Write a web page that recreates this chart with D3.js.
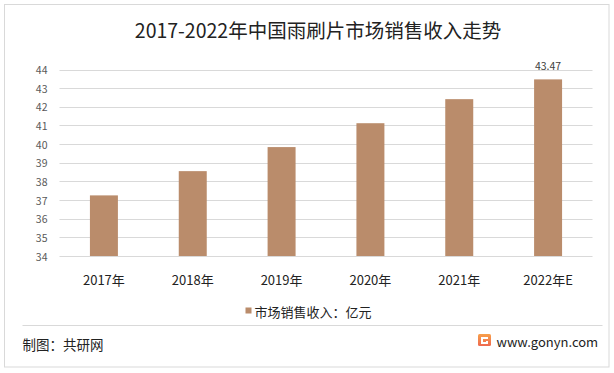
<!DOCTYPE html>
<html>
<head>
<meta charset="utf-8">
<script src="https://cdn.jsdelivr.net/npm/d3@7"></script>
<style>
    body { margin: 0; background: #fff; }
    text { font-family: "Noto Sans CJK SC", "Noto Sans", sans-serif; }
</style>
</head>
<body>
<div id="chart"></div>
<script>
// chart data
var years = ["2017年", "2018年", "2019年", "2020年", "2021年", "2022年E"];
var revenue = [37.25, 38.55, 39.84, 41.12, 42.41, 43.47];
var yTicks = [34, 35, 36, 37, 38, 39, 40, 41, 42, 43, 44];
var shownLabels = ["2022年E"];   // only last bar carries a value label

var title = "2017-2022年中国雨刷片市场销售收入走势";
var legendText = "市场销售收入：亿元";
var source = "制图：共研网";
var site = "www.gonyn.com";

var width = 614, height = 373;
var barColor = "#BA8C6B";
var gridColor = "#d9d9d9";

var svg = d3.select("#chart")
    .append("svg")
    .attr("width", width)
    .attr("height", height);

svg.append("rect")
    .attr("x", 4.5).attr("y", 4.5)
    .attr("width", 604.5).attr("height", 362.5)
    .attr("fill", "#fff")
    .attr("stroke", gridColor);

svg.append("text")
    .attr("x", 318).attr("y", 29)
    .attr("text-anchor", "middle")
    .attr("dominant-baseline", "central")
    .attr("font-size", "19.5px")
    .attr("fill", "#222")
    .text(title);

var x = d3.scaleBand()
    .domain(years)
    .range([59.5, 592.5])
    .paddingInner(0.685)
    .paddingOuter(0.3425);

var y = d3.scaleLinear()
    .domain([34, 44])
    .range([256, 69.5]);

// gridlines
svg.append("g")
    .selectAll("line")
    .data(yTicks)
    .enter()
    .append("line")
    .attr("x1", 59.5)
    .attr("x2", 592.5)
    .attr("y1", d => Math.round(y(d)) + 0.5)
    .attr("y2", d => Math.round(y(d)) + 0.5)
    .attr("stroke", gridColor)
    .attr("stroke-width", 1);

// y tick labels
svg.append("g")
    .selectAll("text")
    .data(yTicks)
    .enter()
    .append("text")
    .attr("x", 47.5)
    .attr("y", d => y(d))
    .attr("text-anchor", "end")
    .attr("dominant-baseline", "central")
    .attr("font-size", "10.5px")
    .attr("fill", "#595959")
    .text(d => d);

// bars
svg.append("g")
    .selectAll("rect")
    .data(revenue)
    .enter()
    .append("rect")
    .attr("x", (d, i) => x(years[i]))
    .attr("width", x.bandwidth())
    .attr("y", d => y(d))
    .attr("height", d => y(34) - y(d))
    .attr("fill", barColor);

// value label
svg.append("g")
    .selectAll("text")
    .data(revenue.filter((d, i) => shownLabels.indexOf(years[i]) >= 0))
    .enter()
    .append("text")
    .attr("x", d => x(years[revenue.indexOf(d)]) + x.bandwidth() / 2)
    .attr("y", d => y(d) - 13.5)
    .attr("text-anchor", "middle")
    .attr("dominant-baseline", "central")
    .attr("font-size", "10.5px")
    .attr("fill", "#404040")
    .text(d => d.toFixed(2));

// x labels
svg.append("g")
    .selectAll("text")
    .data(years)
    .enter()
    .append("text")
    .attr("x", d => x(d) + x.bandwidth() / 2)
    .attr("y", 279)
    .attr("text-anchor", "middle")
    .attr("dominant-baseline", "central")
    .attr("font-size", "13px")
    .attr("fill", "#222")
    .text(d => d);

// legend
svg.append("rect")
    .attr("x", 245.5).attr("y", 307.5)
    .attr("width", 6).attr("height", 6)
    .attr("fill", barColor);

svg.append("text")
    .attr("x", 254.5).attr("y", 311)
    .attr("dominant-baseline", "central")
    .attr("font-size", "13px")
    .attr("fill", "#222")
    .text(legendText);

// footer
svg.append("line")
    .attr("x1", 22.5).attr("x2", 602.5)
    .attr("y1", 325.5).attr("y2", 325.5)
    .attr("stroke", gridColor);

svg.append("text")
    .attr("x", 22.5).attr("y", 344)
    .attr("dominant-baseline", "central")
    .attr("font-size", "13.5px")
    .attr("fill", "#222")
    .text(source);

var grad = svg.append("defs").append("linearGradient")
    .attr("id", "logoGrad")
    .attr("x1", 0).attr("y1", 0).attr("x2", 0).attr("y2", 1);
grad.append("stop").attr("offset", "0%").attr("stop-color", "#f7a04a");
grad.append("stop").attr("offset", "100%").attr("stop-color", "#ef6a4f");

var logo = svg.append("g").attr("transform", "translate(478,334)");
logo.append("rect")
    .attr("width", 13).attr("height", 12)
    .attr("rx", 1.5)
    .attr("fill", "url(#logoGrad)");
logo.append("path")
    .attr("d", "M3,3 H10 V5 H5 V8 H8 V7 H10 V10 H3 Z")
    .attr("fill", "#fff");

svg.append("text")
    .attr("x", 496.5).attr("y", 341)
    .attr("dominant-baseline", "central")
    .attr("font-size", "13px")
    .attr("fill", "#222")
    .text(site);
</script>
</body>
</html>
